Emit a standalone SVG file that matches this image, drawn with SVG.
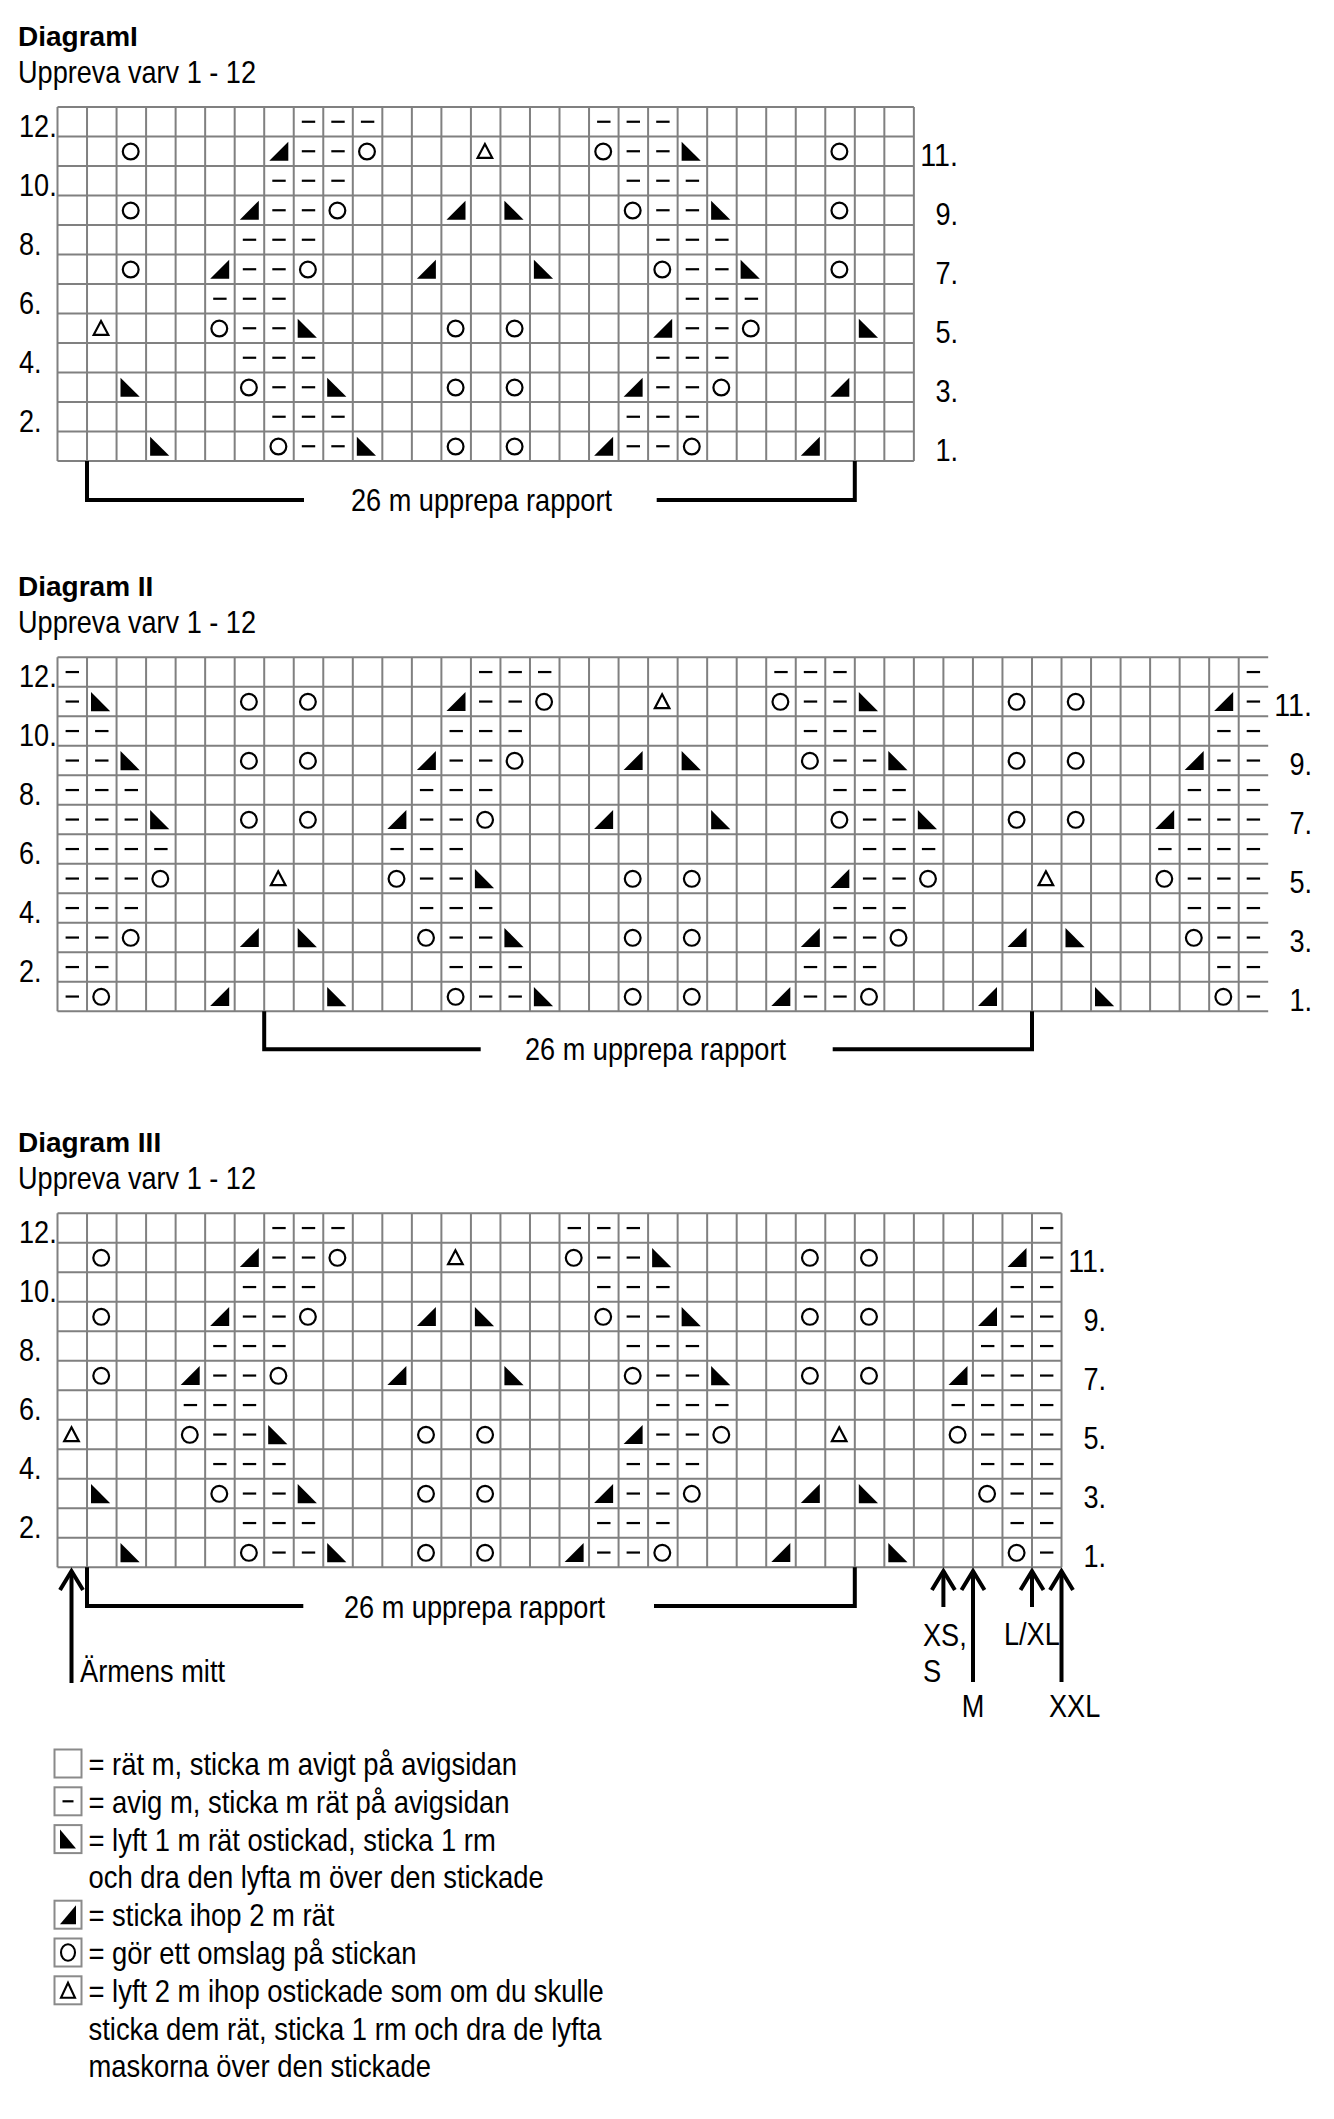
<svg xmlns="http://www.w3.org/2000/svg" width="1334" height="2119" viewBox="0 0 1334 2119">
<style>
.t{font-family:"Liberation Sans",Arial,sans-serif;font-size:32px;fill:#000}
.h{font-family:"Liberation Sans",Arial,sans-serif;font-size:28px;font-weight:bold;fill:#000}
.l{font-family:"Liberation Sans",Arial,sans-serif;font-size:30.5px;fill:#000}
.grid{fill:none;stroke:#808080;stroke-width:2}
.br{fill:none;stroke:#000;stroke-width:4;stroke-linejoin:miter}
.ar{fill:none;stroke:#000;stroke-width:4}
.lb{fill:#fff;stroke:#8a8a8a;stroke-width:2}
</style>
<defs>
<line id="p" x1="-6.7" y1="0" x2="6.7" y2="0" stroke="#000" stroke-width="2.2"/>
<circle id="o" cx="-0.6" cy="0.3" r="7.9" fill="none" stroke="#000" stroke-width="2.2"/>
<polygon id="s" points="-10.8,-9.6 -10.8,9.6 8.4,9.6" fill="#000"/>
<polygon id="k" points="9.3,-9.5 9.3,9.5 -9.7,9.5" fill="#000"/>
<polygon id="d" points="-0.8,-7.2 6.5,6.6 -8.1,6.6" fill="none" stroke="#000" stroke-width="2.2"/>
<line id="lp" x1="-5.5" y1="0" x2="5.5" y2="0" stroke="#000" stroke-width="2.2"/>
<polygon id="ls" points="-8,-9.5 -8,9.5 8,9.5" fill="#000"/>
<polygon id="lk" points="8,-9.5 8,9.5 -8,9.5" fill="#000"/>
<ellipse id="lo" cx="0" cy="0" rx="7" ry="8.3" fill="none" stroke="#000" stroke-width="2.1"/>
<polygon id="ld" points="0,-7.5 7,7.5 -7,7.5" fill="none" stroke="#000" stroke-width="2.1"/>
<marker id="ah" markerUnits="userSpaceOnUse" viewBox="-25 -15 30 30" markerWidth="30" markerHeight="30" refX="0" refY="0" orient="auto" overflow="visible">
<path d="M-19,-11.5 L0,0 L-19,11.5" fill="none" stroke="#000" stroke-width="4"/>
</marker>
</defs>
<rect width="1334" height="2119" fill="#fff"/>

<!-- Diagram I -->
<g id="diagram-1">
<text class="h" x="18" y="45.5">DiagramI</text>
<text class="t" x="18" y="83.3" textLength="238" lengthAdjust="spacingAndGlyphs">Uppreva varv 1 - 12</text>
<g id="d1-labels">
<text class="t" x="19" y="136.5" textLength="37.7" lengthAdjust="spacingAndGlyphs">12.</text>
<text class="t" x="19" y="195.5" textLength="37.7" lengthAdjust="spacingAndGlyphs">10.</text>
<text class="t" x="19" y="254.5" textLength="22.6" lengthAdjust="spacingAndGlyphs">8.</text>
<text class="t" x="19" y="313.5" textLength="22.6" lengthAdjust="spacingAndGlyphs">6.</text>
<text class="t" x="19" y="372.5" textLength="22.6" lengthAdjust="spacingAndGlyphs">4.</text>
<text class="t" x="19" y="431.5" textLength="22.6" lengthAdjust="spacingAndGlyphs">2.</text>
<text class="t" x="920.3" y="166" textLength="37.7" lengthAdjust="spacingAndGlyphs">11.</text>
<text class="t" x="935.4" y="225" textLength="22.6" lengthAdjust="spacingAndGlyphs">9.</text>
<text class="t" x="935.4" y="284" textLength="22.6" lengthAdjust="spacingAndGlyphs">7.</text>
<text class="t" x="935.4" y="343" textLength="22.6" lengthAdjust="spacingAndGlyphs">5.</text>
<text class="t" x="935.4" y="402" textLength="22.6" lengthAdjust="spacingAndGlyphs">3.</text>
<text class="t" x="935.4" y="461" textLength="22.6" lengthAdjust="spacingAndGlyphs">1.</text>
</g>
<g id="d1-chart" transform="translate(57.5,107)">
<path class="grid" d="M0,0v354m29.53-354v354m29.53-354v354m29.53-354v354m29.53-354v354m29.53-354v354m29.53-354v354m29.53-354v354m29.53-354v354m29.53-354v354m29.53-354v354m29.53-354v354m29.53-354v354m29.53-354v354m29.53-354v354m29.53-354v354m29.53-354v354m29.53-354v354m29.53-354v354m29.53-354v354m29.53-354v354m29.53-354v354m29.53-354v354m29.53-354v354m29.53-354v354m29.53-354v354m29.53-354v354m29.53-354v354m29.53-354v354m29.53-354v354M0,0h856.4m-856.4,29.5h856.4m-856.4,29.5h856.4m-856.4,29.5h856.4m-856.4,29.5h856.4m-856.4,29.5h856.4m-856.4,29.5h856.4m-856.4,29.5h856.4m-856.4,29.5h856.4m-856.4,29.5h856.4m-856.4,29.5h856.4m-856.4,29.5h856.4m-856.4,29.5h856.4"/>
<g transform="translate(0,14.75)"><use href="#p" x="251"/><use href="#p" x="280.5"/><use href="#p" x="310.1"/><use href="#p" x="546.3"/><use href="#p" x="575.8"/><use href="#p" x="605.4"/></g>
<g transform="translate(0,44.25)"><use href="#o" x="73.8"/><use href="#k" x="221.5"/><use href="#p" x="251"/><use href="#p" x="280.5"/><use href="#o" x="310.1"/><use href="#d" x="428.2"/><use href="#o" x="546.3"/><use href="#p" x="575.8"/><use href="#p" x="605.4"/><use href="#s" x="634.9"/><use href="#o" x="782.5"/></g>
<g transform="translate(0,73.75)"><use href="#p" x="221.5"/><use href="#p" x="251"/><use href="#p" x="280.5"/><use href="#p" x="575.8"/><use href="#p" x="605.4"/><use href="#p" x="634.9"/></g>
<g transform="translate(0,103.25)"><use href="#o" x="73.8"/><use href="#k" x="192"/><use href="#p" x="221.5"/><use href="#p" x="251"/><use href="#o" x="280.5"/><use href="#k" x="398.7"/><use href="#s" x="457.7"/><use href="#o" x="575.8"/><use href="#p" x="605.4"/><use href="#p" x="634.9"/><use href="#s" x="664.4"/><use href="#o" x="782.5"/></g>
<g transform="translate(0,132.75)"><use href="#p" x="192"/><use href="#p" x="221.5"/><use href="#p" x="251"/><use href="#p" x="605.4"/><use href="#p" x="634.9"/><use href="#p" x="664.4"/></g>
<g transform="translate(0,162.25)"><use href="#o" x="73.8"/><use href="#k" x="162.4"/><use href="#p" x="192"/><use href="#p" x="221.5"/><use href="#o" x="251"/><use href="#k" x="369.1"/><use href="#s" x="487.2"/><use href="#o" x="605.4"/><use href="#p" x="634.9"/><use href="#p" x="664.4"/><use href="#s" x="693.9"/><use href="#o" x="782.5"/></g>
<g transform="translate(0,191.75)"><use href="#p" x="162.4"/><use href="#p" x="192"/><use href="#p" x="221.5"/><use href="#p" x="634.9"/><use href="#p" x="664.4"/><use href="#p" x="693.9"/></g>
<g transform="translate(0,221.25)"><use href="#d" x="44.3"/><use href="#o" x="162.4"/><use href="#p" x="192"/><use href="#p" x="221.5"/><use href="#s" x="251"/><use href="#o" x="398.7"/><use href="#o" x="457.7"/><use href="#k" x="605.4"/><use href="#p" x="634.9"/><use href="#p" x="664.4"/><use href="#o" x="693.9"/><use href="#s" x="812.1"/></g>
<g transform="translate(0,250.75)"><use href="#p" x="192"/><use href="#p" x="221.5"/><use href="#p" x="251"/><use href="#p" x="605.4"/><use href="#p" x="634.9"/><use href="#p" x="664.4"/></g>
<g transform="translate(0,280.25)"><use href="#s" x="73.8"/><use href="#o" x="192"/><use href="#p" x="221.5"/><use href="#p" x="251"/><use href="#s" x="280.5"/><use href="#o" x="398.7"/><use href="#o" x="457.7"/><use href="#k" x="575.8"/><use href="#p" x="605.4"/><use href="#p" x="634.9"/><use href="#o" x="664.4"/><use href="#k" x="782.5"/></g>
<g transform="translate(0,309.75)"><use href="#p" x="221.5"/><use href="#p" x="251"/><use href="#p" x="280.5"/><use href="#p" x="575.8"/><use href="#p" x="605.4"/><use href="#p" x="634.9"/></g>
<g transform="translate(0,339.25)"><use href="#s" x="103.4"/><use href="#o" x="221.5"/><use href="#p" x="251"/><use href="#p" x="280.5"/><use href="#s" x="310.1"/><use href="#o" x="398.7"/><use href="#o" x="457.7"/><use href="#k" x="546.3"/><use href="#p" x="575.8"/><use href="#p" x="605.4"/><use href="#o" x="634.9"/><use href="#k" x="753"/></g>
</g>
<text class="t" x="351" y="510.5" textLength="261" lengthAdjust="spacingAndGlyphs">26 m upprepa rapport</text>
</g>

<!-- Diagram II -->
<g id="diagram-2">
<text class="h" x="18" y="595.8">Diagram II</text>
<text class="t" x="18" y="633" textLength="238" lengthAdjust="spacingAndGlyphs">Uppreva varv 1 - 12</text>
<g id="d2-labels">
<text class="t" x="19" y="686.8" textLength="37.7" lengthAdjust="spacingAndGlyphs">12.</text>
<text class="t" x="19" y="745.8" textLength="37.7" lengthAdjust="spacingAndGlyphs">10.</text>
<text class="t" x="19" y="804.8" textLength="22.6" lengthAdjust="spacingAndGlyphs">8.</text>
<text class="t" x="19" y="863.8" textLength="22.6" lengthAdjust="spacingAndGlyphs">6.</text>
<text class="t" x="19" y="922.8" textLength="22.6" lengthAdjust="spacingAndGlyphs">4.</text>
<text class="t" x="19" y="981.8" textLength="22.6" lengthAdjust="spacingAndGlyphs">2.</text>
<text class="t" x="1274.3" y="716.3" textLength="37.7" lengthAdjust="spacingAndGlyphs">11.</text>
<text class="t" x="1289.4" y="775.3" textLength="22.6" lengthAdjust="spacingAndGlyphs">9.</text>
<text class="t" x="1289.4" y="834.3" textLength="22.6" lengthAdjust="spacingAndGlyphs">7.</text>
<text class="t" x="1289.4" y="893.3" textLength="22.6" lengthAdjust="spacingAndGlyphs">5.</text>
<text class="t" x="1289.4" y="952.3" textLength="22.6" lengthAdjust="spacingAndGlyphs">3.</text>
<text class="t" x="1289.4" y="1011.3" textLength="22.6" lengthAdjust="spacingAndGlyphs">1.</text>
</g>
<g id="d2-chart" transform="translate(57.5,657.3)">
<path class="grid" d="M0,0v354m29.53-354v354m29.53-354v354m29.53-354v354m29.53-354v354m29.53-354v354m29.53-354v354m29.53-354v354m29.53-354v354m29.53-354v354m29.53-354v354m29.53-354v354m29.53-354v354m29.53-354v354m29.53-354v354m29.53-354v354m29.53-354v354m29.53-354v354m29.53-354v354m29.53-354v354m29.53-354v354m29.53-354v354m29.53-354v354m29.53-354v354m29.53-354v354m29.53-354v354m29.53-354v354m29.53-354v354m29.53-354v354m29.53-354v354m29.53-354v354m29.53-354v354m29.53-354v354m29.53-354v354m29.53-354v354m29.53-354v354m29.53-354v354m29.53-354v354m29.53-354v354m29.53-354v354m29.53-354v354M0,0h1210.7m-1210.7,29.5h1210.7m-1210.7,29.5h1210.7m-1210.7,29.5h1210.7m-1210.7,29.5h1210.7m-1210.7,29.5h1210.7m-1210.7,29.5h1210.7m-1210.7,29.5h1210.7m-1210.7,29.5h1210.7m-1210.7,29.5h1210.7m-1210.7,29.5h1210.7m-1210.7,29.5h1210.7m-1210.7,29.5h1210.7"/>
<g transform="translate(0,14.75)"><use href="#p" x="14.8"/><use href="#p" x="428.2"/><use href="#p" x="457.7"/><use href="#p" x="487.2"/><use href="#p" x="723.5"/><use href="#p" x="753"/><use href="#p" x="782.5"/><use href="#p" x="1195.9"/></g>
<g transform="translate(0,44.25)"><use href="#p" x="14.8"/><use href="#s" x="44.3"/><use href="#o" x="192"/><use href="#o" x="251"/><use href="#k" x="398.7"/><use href="#p" x="428.2"/><use href="#p" x="457.7"/><use href="#o" x="487.2"/><use href="#d" x="605.4"/><use href="#o" x="723.5"/><use href="#p" x="753"/><use href="#p" x="782.5"/><use href="#s" x="812.1"/><use href="#o" x="959.7"/><use href="#o" x="1018.8"/><use href="#k" x="1166.4"/><use href="#p" x="1195.9"/></g>
<g transform="translate(0,73.75)"><use href="#p" x="14.8"/><use href="#p" x="44.3"/><use href="#p" x="398.7"/><use href="#p" x="428.2"/><use href="#p" x="457.7"/><use href="#p" x="753"/><use href="#p" x="782.5"/><use href="#p" x="812.1"/><use href="#p" x="1166.4"/><use href="#p" x="1195.9"/></g>
<g transform="translate(0,103.25)"><use href="#p" x="14.8"/><use href="#p" x="44.3"/><use href="#s" x="73.8"/><use href="#o" x="192"/><use href="#o" x="251"/><use href="#k" x="369.1"/><use href="#p" x="398.7"/><use href="#p" x="428.2"/><use href="#o" x="457.7"/><use href="#k" x="575.8"/><use href="#s" x="634.9"/><use href="#o" x="753"/><use href="#p" x="782.5"/><use href="#p" x="812.1"/><use href="#s" x="841.6"/><use href="#o" x="959.7"/><use href="#o" x="1018.8"/><use href="#k" x="1136.9"/><use href="#p" x="1166.4"/><use href="#p" x="1195.9"/></g>
<g transform="translate(0,132.75)"><use href="#p" x="14.8"/><use href="#p" x="44.3"/><use href="#p" x="73.8"/><use href="#p" x="369.1"/><use href="#p" x="398.7"/><use href="#p" x="428.2"/><use href="#p" x="782.5"/><use href="#p" x="812.1"/><use href="#p" x="841.6"/><use href="#p" x="1136.9"/><use href="#p" x="1166.4"/><use href="#p" x="1195.9"/></g>
<g transform="translate(0,162.25)"><use href="#p" x="14.8"/><use href="#p" x="44.3"/><use href="#p" x="73.8"/><use href="#s" x="103.4"/><use href="#o" x="192"/><use href="#o" x="251"/><use href="#k" x="339.6"/><use href="#p" x="369.1"/><use href="#p" x="398.7"/><use href="#o" x="428.2"/><use href="#k" x="546.3"/><use href="#s" x="664.4"/><use href="#o" x="782.5"/><use href="#p" x="812.1"/><use href="#p" x="841.6"/><use href="#s" x="871.1"/><use href="#o" x="959.7"/><use href="#o" x="1018.8"/><use href="#k" x="1107.4"/><use href="#p" x="1136.9"/><use href="#p" x="1166.4"/><use href="#p" x="1195.9"/></g>
<g transform="translate(0,191.75)"><use href="#p" x="14.8"/><use href="#p" x="44.3"/><use href="#p" x="73.8"/><use href="#p" x="103.4"/><use href="#p" x="339.6"/><use href="#p" x="369.1"/><use href="#p" x="398.7"/><use href="#p" x="812.1"/><use href="#p" x="841.6"/><use href="#p" x="871.1"/><use href="#p" x="1107.4"/><use href="#p" x="1136.9"/><use href="#p" x="1166.4"/><use href="#p" x="1195.9"/></g>
<g transform="translate(0,221.25)"><use href="#p" x="14.8"/><use href="#p" x="44.3"/><use href="#p" x="73.8"/><use href="#o" x="103.4"/><use href="#d" x="221.5"/><use href="#o" x="339.6"/><use href="#p" x="369.1"/><use href="#p" x="398.7"/><use href="#s" x="428.2"/><use href="#o" x="575.8"/><use href="#o" x="634.9"/><use href="#k" x="782.5"/><use href="#p" x="812.1"/><use href="#p" x="841.6"/><use href="#o" x="871.1"/><use href="#d" x="989.2"/><use href="#o" x="1107.4"/><use href="#p" x="1136.9"/><use href="#p" x="1166.4"/><use href="#p" x="1195.9"/></g>
<g transform="translate(0,250.75)"><use href="#p" x="14.8"/><use href="#p" x="44.3"/><use href="#p" x="73.8"/><use href="#p" x="369.1"/><use href="#p" x="398.7"/><use href="#p" x="428.2"/><use href="#p" x="782.5"/><use href="#p" x="812.1"/><use href="#p" x="841.6"/><use href="#p" x="1136.9"/><use href="#p" x="1166.4"/><use href="#p" x="1195.9"/></g>
<g transform="translate(0,280.25)"><use href="#p" x="14.8"/><use href="#p" x="44.3"/><use href="#o" x="73.8"/><use href="#k" x="192"/><use href="#s" x="251"/><use href="#o" x="369.1"/><use href="#p" x="398.7"/><use href="#p" x="428.2"/><use href="#s" x="457.7"/><use href="#o" x="575.8"/><use href="#o" x="634.9"/><use href="#k" x="753"/><use href="#p" x="782.5"/><use href="#p" x="812.1"/><use href="#o" x="841.6"/><use href="#k" x="959.7"/><use href="#s" x="1018.8"/><use href="#o" x="1136.9"/><use href="#p" x="1166.4"/><use href="#p" x="1195.9"/></g>
<g transform="translate(0,309.75)"><use href="#p" x="14.8"/><use href="#p" x="44.3"/><use href="#p" x="398.7"/><use href="#p" x="428.2"/><use href="#p" x="457.7"/><use href="#p" x="753"/><use href="#p" x="782.5"/><use href="#p" x="812.1"/><use href="#p" x="1166.4"/><use href="#p" x="1195.9"/></g>
<g transform="translate(0,339.25)"><use href="#p" x="14.8"/><use href="#o" x="44.3"/><use href="#k" x="162.4"/><use href="#s" x="280.5"/><use href="#o" x="398.7"/><use href="#p" x="428.2"/><use href="#p" x="457.7"/><use href="#s" x="487.2"/><use href="#o" x="575.8"/><use href="#o" x="634.9"/><use href="#k" x="723.5"/><use href="#p" x="753"/><use href="#p" x="782.5"/><use href="#o" x="812.1"/><use href="#k" x="930.2"/><use href="#s" x="1048.3"/><use href="#o" x="1166.4"/><use href="#p" x="1195.9"/></g>
</g>
<text class="t" x="525" y="1060" textLength="261" lengthAdjust="spacingAndGlyphs">26 m upprepa rapport</text>
</g>

<!-- Diagram III -->
<g id="diagram-3">
<text class="h" x="18" y="1151.8">Diagram III</text>
<text class="t" x="18" y="1189" textLength="238" lengthAdjust="spacingAndGlyphs">Uppreva varv 1 - 12</text>
<g id="d3-labels">
<text class="t" x="19" y="1242.8" textLength="37.7" lengthAdjust="spacingAndGlyphs">12.</text>
<text class="t" x="19" y="1301.8" textLength="37.7" lengthAdjust="spacingAndGlyphs">10.</text>
<text class="t" x="19" y="1360.8" textLength="22.6" lengthAdjust="spacingAndGlyphs">8.</text>
<text class="t" x="19" y="1419.8" textLength="22.6" lengthAdjust="spacingAndGlyphs">6.</text>
<text class="t" x="19" y="1478.8" textLength="22.6" lengthAdjust="spacingAndGlyphs">4.</text>
<text class="t" x="19" y="1537.8" textLength="22.6" lengthAdjust="spacingAndGlyphs">2.</text>
<text class="t" x="1068.3" y="1272.3" textLength="37.7" lengthAdjust="spacingAndGlyphs">11.</text>
<text class="t" x="1083.4" y="1331.3" textLength="22.6" lengthAdjust="spacingAndGlyphs">9.</text>
<text class="t" x="1083.4" y="1390.3" textLength="22.6" lengthAdjust="spacingAndGlyphs">7.</text>
<text class="t" x="1083.4" y="1449.3" textLength="22.6" lengthAdjust="spacingAndGlyphs">5.</text>
<text class="t" x="1083.4" y="1508.3" textLength="22.6" lengthAdjust="spacingAndGlyphs">3.</text>
<text class="t" x="1083.4" y="1567.3" textLength="22.6" lengthAdjust="spacingAndGlyphs">1.</text>
</g>
<g id="d3-chart" transform="translate(57.5,1213.3)">
<path class="grid" d="M0,0v354m29.53-354v354m29.53-354v354m29.53-354v354m29.53-354v354m29.53-354v354m29.53-354v354m29.53-354v354m29.53-354v354m29.53-354v354m29.53-354v354m29.53-354v354m29.53-354v354m29.53-354v354m29.53-354v354m29.53-354v354m29.53-354v354m29.53-354v354m29.53-354v354m29.53-354v354m29.53-354v354m29.53-354v354m29.53-354v354m29.53-354v354m29.53-354v354m29.53-354v354m29.53-354v354m29.53-354v354m29.53-354v354m29.53-354v354m29.53-354v354m29.53-354v354m29.53-354v354m29.53-354v354m29.53-354v354M0,0h1004m-1004,29.5h1004m-1004,29.5h1004m-1004,29.5h1004m-1004,29.5h1004m-1004,29.5h1004m-1004,29.5h1004m-1004,29.5h1004m-1004,29.5h1004m-1004,29.5h1004m-1004,29.5h1004m-1004,29.5h1004m-1004,29.5h1004"/>
<g transform="translate(0,14.75)"><use href="#p" x="221.5"/><use href="#p" x="251"/><use href="#p" x="280.5"/><use href="#p" x="516.8"/><use href="#p" x="546.3"/><use href="#p" x="575.8"/><use href="#p" x="989.2"/></g>
<g transform="translate(0,44.25)"><use href="#o" x="44.3"/><use href="#k" x="192"/><use href="#p" x="221.5"/><use href="#p" x="251"/><use href="#o" x="280.5"/><use href="#d" x="398.7"/><use href="#o" x="516.8"/><use href="#p" x="546.3"/><use href="#p" x="575.8"/><use href="#s" x="605.4"/><use href="#o" x="753"/><use href="#o" x="812.1"/><use href="#k" x="959.7"/><use href="#p" x="989.2"/></g>
<g transform="translate(0,73.75)"><use href="#p" x="192"/><use href="#p" x="221.5"/><use href="#p" x="251"/><use href="#p" x="546.3"/><use href="#p" x="575.8"/><use href="#p" x="605.4"/><use href="#p" x="959.7"/><use href="#p" x="989.2"/></g>
<g transform="translate(0,103.25)"><use href="#o" x="44.3"/><use href="#k" x="162.4"/><use href="#p" x="192"/><use href="#p" x="221.5"/><use href="#o" x="251"/><use href="#k" x="369.1"/><use href="#s" x="428.2"/><use href="#o" x="546.3"/><use href="#p" x="575.8"/><use href="#p" x="605.4"/><use href="#s" x="634.9"/><use href="#o" x="753"/><use href="#o" x="812.1"/><use href="#k" x="930.2"/><use href="#p" x="959.7"/><use href="#p" x="989.2"/></g>
<g transform="translate(0,132.75)"><use href="#p" x="162.4"/><use href="#p" x="192"/><use href="#p" x="221.5"/><use href="#p" x="575.8"/><use href="#p" x="605.4"/><use href="#p" x="634.9"/><use href="#p" x="930.2"/><use href="#p" x="959.7"/><use href="#p" x="989.2"/></g>
<g transform="translate(0,162.25)"><use href="#o" x="44.3"/><use href="#k" x="132.9"/><use href="#p" x="162.4"/><use href="#p" x="192"/><use href="#o" x="221.5"/><use href="#k" x="339.6"/><use href="#s" x="457.7"/><use href="#o" x="575.8"/><use href="#p" x="605.4"/><use href="#p" x="634.9"/><use href="#s" x="664.4"/><use href="#o" x="753"/><use href="#o" x="812.1"/><use href="#k" x="900.7"/><use href="#p" x="930.2"/><use href="#p" x="959.7"/><use href="#p" x="989.2"/></g>
<g transform="translate(0,191.75)"><use href="#p" x="132.9"/><use href="#p" x="162.4"/><use href="#p" x="192"/><use href="#p" x="605.4"/><use href="#p" x="634.9"/><use href="#p" x="664.4"/><use href="#p" x="900.7"/><use href="#p" x="930.2"/><use href="#p" x="959.7"/><use href="#p" x="989.2"/></g>
<g transform="translate(0,221.25)"><use href="#d" x="14.8"/><use href="#o" x="132.9"/><use href="#p" x="162.4"/><use href="#p" x="192"/><use href="#s" x="221.5"/><use href="#o" x="369.1"/><use href="#o" x="428.2"/><use href="#k" x="575.8"/><use href="#p" x="605.4"/><use href="#p" x="634.9"/><use href="#o" x="664.4"/><use href="#d" x="782.5"/><use href="#o" x="900.7"/><use href="#p" x="930.2"/><use href="#p" x="959.7"/><use href="#p" x="989.2"/></g>
<g transform="translate(0,250.75)"><use href="#p" x="162.4"/><use href="#p" x="192"/><use href="#p" x="221.5"/><use href="#p" x="575.8"/><use href="#p" x="605.4"/><use href="#p" x="634.9"/><use href="#p" x="930.2"/><use href="#p" x="959.7"/><use href="#p" x="989.2"/></g>
<g transform="translate(0,280.25)"><use href="#s" x="44.3"/><use href="#o" x="162.4"/><use href="#p" x="192"/><use href="#p" x="221.5"/><use href="#s" x="251"/><use href="#o" x="369.1"/><use href="#o" x="428.2"/><use href="#k" x="546.3"/><use href="#p" x="575.8"/><use href="#p" x="605.4"/><use href="#o" x="634.9"/><use href="#k" x="753"/><use href="#s" x="812.1"/><use href="#o" x="930.2"/><use href="#p" x="959.7"/><use href="#p" x="989.2"/></g>
<g transform="translate(0,309.75)"><use href="#p" x="192"/><use href="#p" x="221.5"/><use href="#p" x="251"/><use href="#p" x="546.3"/><use href="#p" x="575.8"/><use href="#p" x="605.4"/><use href="#p" x="959.7"/><use href="#p" x="989.2"/></g>
<g transform="translate(0,339.25)"><use href="#s" x="73.8"/><use href="#o" x="192"/><use href="#p" x="221.5"/><use href="#p" x="251"/><use href="#s" x="280.5"/><use href="#o" x="369.1"/><use href="#o" x="428.2"/><use href="#k" x="516.8"/><use href="#p" x="546.3"/><use href="#p" x="575.8"/><use href="#o" x="605.4"/><use href="#k" x="723.5"/><use href="#s" x="841.6"/><use href="#o" x="959.7"/><use href="#p" x="989.2"/></g>
</g>
<text class="t" x="344" y="1617.5" textLength="261" lengthAdjust="spacingAndGlyphs">26 m upprepa rapport</text>
<text class="t" x="80" y="1681.7" textLength="145" lengthAdjust="spacingAndGlyphs">Ärmens mitt</text>
<text class="t" x="923" y="1645.5" textLength="43.7" lengthAdjust="spacingAndGlyphs">XS,</text>
<text class="t" x="923" y="1682" textLength="18.2" lengthAdjust="spacingAndGlyphs">S</text>
<text class="t" x="1004" y="1644.5" textLength="55.8" lengthAdjust="spacingAndGlyphs">L/XL</text>
<text class="t" x="961.7" y="1716.5" textLength="22.6" lengthAdjust="spacingAndGlyphs">M</text>
<text class="t" x="1049" y="1716.5" textLength="51.2" lengthAdjust="spacingAndGlyphs">XXL</text>
</g>

<!-- Connectors: repeat brackets and size arrows -->
<g id="connectors">
<path class="br" d="M87,461 V500 H304"/>
<path class="br" d="M656.7,500 H854.8 V461"/>
<path class="br" d="M264.2,1011.3 V1049.3 H480.7"/>
<path class="br" d="M832.7,1049.3 H1032 V1011.3"/>
<path class="br" d="M87,1567.3 V1606 H303.3"/>
<path class="br" d="M654,1606 H854.8 V1567.3"/>
<line class="ar" x1="71.5" y1="1683" x2="71.5" y2="1571" marker-end="url(#ah)"/>
<line class="ar" x1="943.4" y1="1607" x2="943.4" y2="1571" marker-end="url(#ah)"/>
<line class="ar" x1="973" y1="1682" x2="973" y2="1571" marker-end="url(#ah)"/>
<line class="ar" x1="1032" y1="1607" x2="1032" y2="1571" marker-end="url(#ah)"/>
<line class="ar" x1="1061.5" y1="1682" x2="1061.5" y2="1571" marker-end="url(#ah)"/>
</g>

<!-- Legend -->
<g id="legend">
<rect class="lb" x="54.5" y="1749.5" width="27" height="28"/>
<rect class="lb" x="54.5" y="1787.3" width="27" height="28"/>
<rect class="lb" x="54.5" y="1825.1" width="27" height="28"/>
<rect class="lb" x="54.5" y="1900.7" width="27" height="28"/>
<rect class="lb" x="54.5" y="1938.5" width="27" height="28"/>
<rect class="lb" x="54.5" y="1976.3" width="27" height="28"/>
<use href="#lp" x="68" y="1801.3"/>
<use href="#ls" x="68" y="1839.1"/>
<use href="#lk" x="68" y="1914.7"/>
<use href="#lo" x="68" y="1952.5"/>
<use href="#ld" x="68" y="1990.3"/>
<text class="l" x="88.5" y="1775" textLength="428.5" lengthAdjust="spacingAndGlyphs">= rät m, sticka m avigt på avigsidan</text>
<text class="l" x="88.5" y="1812.8" textLength="420.9" lengthAdjust="spacingAndGlyphs">= avig m, sticka m rät på avigsidan</text>
<text class="l" x="88.5" y="1850.6" textLength="407.2" lengthAdjust="spacingAndGlyphs">= lyft 1 m rät ostickad, sticka 1 rm</text>
<text class="l" x="88.5" y="1888.4" textLength="455.2" lengthAdjust="spacingAndGlyphs">och dra den lyfta m över den stickade</text>
<text class="l" x="88.5" y="1926.2" textLength="245.9" lengthAdjust="spacingAndGlyphs">= sticka ihop 2 m rät</text>
<text class="l" x="88.5" y="1964" textLength="328.1" lengthAdjust="spacingAndGlyphs">= gör ett omslag på stickan</text>
<text class="l" x="88.5" y="2001.8" textLength="515.3" lengthAdjust="spacingAndGlyphs">= lyft 2 m ihop ostickade som om du skulle</text>
<text class="l" x="88.5" y="2039.6" textLength="513" lengthAdjust="spacingAndGlyphs">sticka dem rät, sticka 1 rm och dra de lyfta</text>
<text class="l" x="88.5" y="2077.4" textLength="342.5" lengthAdjust="spacingAndGlyphs">maskorna över den stickade</text>
</g>
</svg>
